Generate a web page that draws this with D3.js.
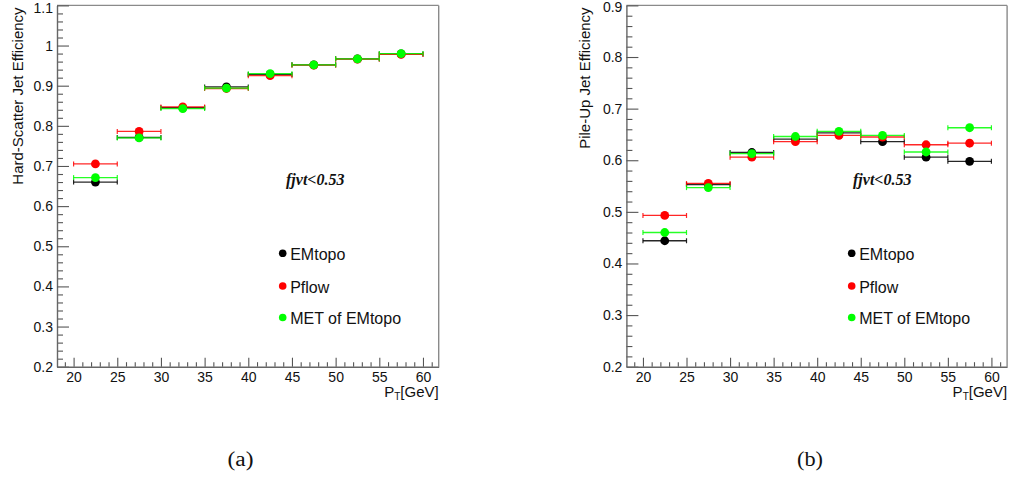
<!DOCTYPE html>
<html>
<head>
<meta charset="utf-8">
<script src="https://cdn.jsdelivr.net/npm/d3@7"></script>
<style>
  html, body { margin: 0; padding: 0; background: #fff; }
  svg { display: block; }
</style>
</head>
<body>
<svg id="chart" width="1009" height="479"></svg>
<script>
// ---------------- DATA ----------------
const binCenters = [22.5, 27.5, 32.5, 37.5, 42.5, 47.5, 52.5, 57.5];
const binHalfWidth = 2.5;
const seriesNames = ["EMtopo", "Pflow", "MET of EMtopo"];
const seriesColors = ["#000000", "#ff0000", "#00ff00"];

// (a) Hard-scatter jet efficiency
const hsEMtopo = [0.660, 0.771, 0.845, 0.897, 0.928, 0.952, 0.967, 0.979];
const hsPflow  = [0.705, 0.786, 0.847, 0.893, 0.925, 0.951, 0.966, 0.978];
const hsMET    = [0.671, 0.770, 0.843, 0.894, 0.930, 0.952, 0.967, 0.980];
const hsErrEMtopo = [0.004, 0.003, 0.003, 0.002, 0.002, 0.002, 0.002, 0.002];
const hsErrPflow  = [0.004, 0.003, 0.003, 0.002, 0.002, 0.002, 0.002, 0.002];
const hsErrMET    = [0.004, 0.003, 0.003, 0.002, 0.002, 0.002, 0.002, 0.002];

// (b) Pile-up jet efficiency
const puEMtopo = [0.444, 0.553, 0.615, 0.641, 0.653, 0.636, 0.606, 0.598];
const puPflow  = [0.493, 0.555, 0.606, 0.636, 0.648, 0.645, 0.630, 0.633];
const puMET    = [0.460, 0.547, 0.613, 0.646, 0.656, 0.648, 0.616, 0.663];
const puErrEMtopo = [0.004, 0.004, 0.004, 0.005, 0.005, 0.005, 0.006, 0.007];
const puErrPflow  = [0.004, 0.004, 0.004, 0.005, 0.005, 0.005, 0.006, 0.008];
const puErrMET    = [0.004, 0.004, 0.004, 0.005, 0.005, 0.005, 0.006, 0.006];

// Axis ticks
const xMajorTicks = [20, 25, 30, 35, 40, 45, 50, 55, 60];
const xMinorTicks = d3.range(19, 62, 1).filter(v => v % 5 !== 0);
const xDomain = [18.1, 61.8];
const hsYDomain = [0.2, 1.1];
const puYDomain = [0.2, 0.9];
const hsYMajor = [0.2, 0.3, 0.4, 0.5, 0.6, 0.7, 0.8, 0.9, 1.0, 1.1];
const puYMajor = [0.2, 0.3, 0.4, 0.5, 0.6, 0.7, 0.8, 0.9];

const panelCaptions = ["(a)", "(b)"];
const yTitles = ["Hard-Scatter Jet Efficiency", "Pile-Up Jet Efficiency"];
const cutLabel = "fjvt<0.53";

// ---------------- DRAW ----------------
const svg = d3.select("#chart");
const SANS = "'Liberation Sans', Arial, Helvetica, sans-serif";
const SERIF = "'Liberation Serif', 'Times New Roman', serif";

function minorTicks(domain, step, majors) {
  const out = [];
  const n = Math.round((domain[1] - domain[0]) / step);
  for (let i = 0; i <= n; i++) {
    const v = +(domain[0] + i * step).toFixed(4);
    if (!majors.some(m => Math.abs(m - v) < 1e-6)) out.push(v);
  }
  return out;
}

function drawPanel(cfg) {
  const g = svg.append("g");
  const x = d3.scaleLinear().domain(xDomain).range([cfg.left, cfg.right]);
  const y = d3.scaleLinear().domain(cfg.yDomain).range([cfg.bottom, cfg.top]);

  // frame top & right
  g.append("line").attr("x1", cfg.left).attr("x2", cfg.right).attr("y1", cfg.top).attr("y2", cfg.top)
    .attr("stroke", "#8a8a8a").attr("stroke-width", 1.4);
  g.append("line").attr("x1", cfg.right).attr("x2", cfg.right).attr("y1", cfg.top).attr("y2", cfg.bottom)
    .attr("stroke", "#8a8a8a").attr("stroke-width", 1.4);

  const fmt = d => String(+(+d).toFixed(1));
  const topVal = cfg.yMajor[cfg.yMajor.length - 1];

  // Y axis minor
  const yMin = minorTicks(cfg.yDomain, 0.02, cfg.yMajor);
  g.append("g").attr("transform", `translate(${cfg.left},0)`)
    .call(d3.axisLeft(y).tickValues(yMin).tickSize(-6).tickSizeOuter(0).tickFormat(""))
    .call(a => a.select(".domain").remove())
    .call(a => a.selectAll("line").attr("stroke", "#555").attr("stroke-width", 1.1));
  // Y axis major
  g.append("g").attr("transform", `translate(${cfg.left},0)`)
    .call(d3.axisLeft(y).tickValues(cfg.yMajor).tickSize(-12).tickSizeOuter(0).tickPadding(4).tickFormat(fmt))
    .call(a => a.select(".domain").attr("stroke", "#666").attr("stroke-width", 1.4))
    .call(a => a.selectAll("line").attr("stroke", "#555").attr("stroke-width", 1.1))
    .call(a => a.selectAll("text").attr("font-family", SANS).attr("font-size", 14).attr("fill", "#111"))
    .call(a => a.selectAll(".tick").filter(d => Math.abs(d - topVal) < 1e-6).select("text")
      .attr("y", cfg.topLabelShift));

  // X axis minor
  g.append("g").attr("transform", `translate(0,${cfg.bottom})`)
    .call(d3.axisBottom(x).tickValues(xMinorTicks).tickSize(-4.5).tickSizeOuter(0).tickFormat(""))
    .call(a => a.select(".domain").remove())
    .call(a => a.selectAll("line").attr("stroke", "#555").attr("stroke-width", 1.1));
  // X axis major
  g.append("g").attr("transform", `translate(0,${cfg.bottom})`)
    .call(d3.axisBottom(x).tickValues(xMajorTicks).tickSize(-9).tickSizeOuter(0).tickPadding(5).tickFormat(d3.format("d")))
    .call(a => a.select(".domain").attr("stroke", "#666").attr("stroke-width", 1.4))
    .call(a => a.selectAll("line").attr("stroke", "#555").attr("stroke-width", 1.1))
    .call(a => a.selectAll("text").attr("font-family", SANS).attr("font-size", 14).attr("fill", "#111"));

  // X title
  const xt = g.append("text").attr("x", cfg.right).attr("y", cfg.bottom + 30)
    .attr("text-anchor", "end").attr("font-family", SANS).attr("font-size", 15).attr("fill", "#111");
  xt.append("tspan").text("P");
  xt.append("tspan").attr("font-size", 10).attr("dy", 3).text("T");
  xt.append("tspan").attr("dy", -3).text("[GeV]");

  // Y title
  g.append("text")
    .attr("transform", `translate(${cfg.yTitleX},${cfg.top + 2}) rotate(-90)`)
    .attr("text-anchor", "end").attr("font-family", SANS).attr("font-size", 15).attr("fill", "#111")
    .text(cfg.yTitle);

  // cut label
  g.append("text").attr("x", cfg.cutX).attr("y", 185)
    .attr("font-family", SERIF).attr("font-size", 16).attr("font-weight", "bold").attr("font-style", "italic")
    .attr("fill", "#111").text(cutLabel);

  // data series
  cfg.series.forEach((s, si) => {
    const col = seriesColors[si];
    const sg = g.append("g");
    const pts = binCenters.map((c, i) => ({ c, v: s.values[i], e: s.errors[i] }));
    // horizontal error bars
    sg.selectAll("line.hx").data(pts).join("line")
      .attr("x1", d => x(d.c - binHalfWidth)).attr("x2", d => x(d.c + binHalfWidth))
      .attr("y1", d => y(d.v)).attr("y2", d => y(d.v))
      .attr("stroke", col).attr("stroke-width", 1.3).attr("stroke-opacity", 0.85);
    // end caps
    ["l", "r"].forEach(side => {
      sg.selectAll("line.cap" + side).data(pts).join("line")
        .attr("x1", d => x(d.c + (side === "l" ? -binHalfWidth : binHalfWidth)))
        .attr("x2", d => x(d.c + (side === "l" ? -binHalfWidth : binHalfWidth)))
        .attr("y1", d => y(d.v) - 2.5).attr("y2", d => y(d.v) + 2.5)
        .attr("stroke", col).attr("stroke-width", 1.2).attr("stroke-opacity", 0.85);
    });
    // vertical error bars
    sg.selectAll("line.vy").data(pts).join("line")
      .attr("x1", d => x(d.c)).attr("x2", d => x(d.c))
      .attr("y1", d => y(d.v - d.e)).attr("y2", d => y(d.v + d.e))
      .attr("stroke", col).attr("stroke-width", 1.3);
    // markers
    sg.selectAll("circle").data(pts).join("circle")
      .attr("cx", d => x(d.c)).attr("cy", d => y(d.v)).attr("r", 4.4)
      .attr("fill", col);
  });

  // legend
  const legendY = [253.3, 286, 317.5];
  seriesNames.forEach((name, i) => {
    g.append("circle").attr("cx", cfg.legendX).attr("cy", legendY[i]).attr("r", 3.8).attr("fill", seriesColors[i]);
    g.append("text").attr("x", cfg.legendX + 7.5).attr("y", legendY[i] + 1)
      .attr("dominant-baseline", "central")
      .attr("font-family", SANS).attr("font-size", 16).attr("fill", "#111").text(name);
  });

  // caption
  svg.append("text").attr("x", cfg.captionX).attr("y", 466).attr("text-anchor", "middle")
    .attr("font-family", SERIF).attr("font-size", 20).attr("fill", "#111")
    .attr("textLength", 26).attr("lengthAdjust", "spacingAndGlyphs")
    .text(cfg.caption);
}

drawPanel({
  left: 57, right: 438.7, top: 5.4, bottom: 366.7,
  yDomain: hsYDomain, yMajor: hsYMajor, yTitle: yTitles[0], yTitleX: 22.5, topLabelShift: 3,
  cutX: 286, legendX: 282.7, captionX: 240.5, caption: panelCaptions[0],
  series: [
    { values: hsEMtopo, errors: hsErrEMtopo },
    { values: hsPflow, errors: hsErrPflow },
    { values: hsMET, errors: hsErrMET }
  ]
});

drawPanel({
  left: 626.4, right: 1007.1, top: 5.4, bottom: 366.7,
  yDomain: puYDomain, yMajor: puYMajor, yTitle: yTitles[1], yTitleX: 589.5, topLabelShift: 2,
  cutX: 853, legendX: 851.7, captionX: 810, caption: panelCaptions[1],
  series: [
    { values: puEMtopo, errors: puErrEMtopo },
    { values: puPflow, errors: puErrPflow },
    { values: puMET, errors: puErrMET }
  ]
});
</script>
</body>
</html>
